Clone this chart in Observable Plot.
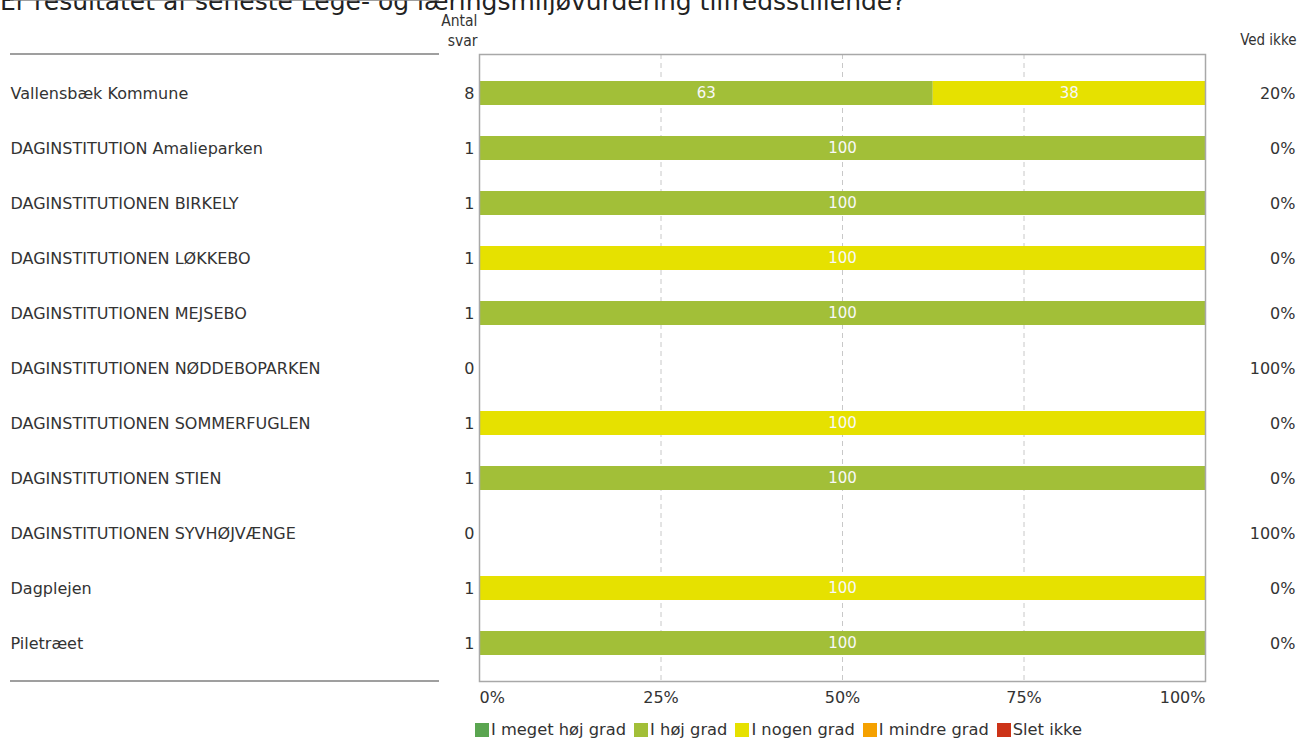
<!DOCTYPE html>
<html>
<head>
<meta charset="utf-8">
<script src="https://cdn.jsdelivr.net/npm/d3@7"></script>
<script src="https://cdn.jsdelivr.net/npm/@observablehq/plot@0.6"></script>
<style>
  html, body { margin: 0; padding: 0; background: #fff; }
  #wrap { position: relative; width: 1299px; height: 738px; overflow: hidden; font-family: "DejaVu Sans", Verdana, sans-serif; color: #333; }
  #title { position: absolute; left: 0; top: -13px; font-size: 25px; white-space: nowrap; color: #222; }
  #chart { position: absolute; left: 0; top: 0; }
  #legend { position: absolute; left: 475px; top: 720px; display: flex; font-size: 16.3px; white-space: nowrap; }
  #legend .item { display: flex; align-items: center; margin-right: 8px; }
  #legend .sw { width: 14px; height: 14px; margin-right: 2px; }
</style>
</head>
<body>
<div id="wrap">
  <div id="title">Er resultatet af seneste Lege- og læringsmiljøvurdering tilfredsstillende?</div>
  <div id="chart"></div>
  <div id="legend"></div>
</div>
<script>
const units = [
  "Vallensbæk Kommune",
  "DAGINSTITUTION Amalieparken",
  "DAGINSTITUTIONEN BIRKELY",
  "DAGINSTITUTIONEN LØKKEBO",
  "DAGINSTITUTIONEN MEJSEBO",
  "DAGINSTITUTIONEN NØDDEBOPARKEN",
  "DAGINSTITUTIONEN SOMMERFUGLEN",
  "DAGINSTITUTIONEN STIEN",
  "DAGINSTITUTIONEN SYVHØJVÆNGE",
  "Dagplejen",
  "Piletræet"
];
const antalSvar = [8, 1, 1, 1, 1, 0, 1, 1, 0, 1, 1];
const vedIkke = [20, 0, 0, 0, 0, 100, 0, 0, 100, 0, 0];

const categories = ["I meget høj grad", "I høj grad", "I nogen grad", "I mindre grad", "Slet ikke"];
const colors = ["#5aa550", "#a2bf38", "#e6e100", "#f5a100", "#cc3318"];

const iMegetHoejGrad = [0, 0, 0, 0, 0, 0, 0, 0, 0, 0, 0];
const iHoejGrad      = [62.5, 100, 100, 0, 100, 0, 0, 100, 0, 0, 100];
const iNogenGrad     = [37.5, 0, 0, 100, 0, 0, 100, 0, 0, 100, 0];
const iMindreGrad    = [0, 0, 0, 0, 0, 0, 0, 0, 0, 0, 0];
const sletIkke       = [0, 0, 0, 0, 0, 0, 0, 0, 0, 0, 0];

const xTicks = [0, 25, 50, 75, 100];

const seriesValues = [iMegetHoejGrad, iHoejGrad, iNogenGrad, iMindreGrad, sletIkke];
const long = [];
units.forEach((u, i) => {
  categories.forEach((c, k) => {
    long.push({unit: u, cat: c, value: seriesValues[k][i]});
  });
});
const rows = units.map((u, i) => ({unit: u, n: antalSvar[i], vi: vedIkke[i]}));

const labelFont = "DejaVu Sans";
const fs = 16;

function leftRules(index, scales, values, dims) {
  const g = d3.create("svg:g");
  const y = scales.y;
  const bw = y.bandwidth || 0;
  const c0 = y(units[0]) + bw / 2;
  const c1 = y(units[1]) + bw / 2;
  const ys = [dims.marginTop, (c0 + c1) / 2, dims.height - dims.marginBottom];
  const x1 = dims.marginLeft - 469, x2 = dims.marginLeft - 40;
  for (const yy of ys) {
    g.append("line").attr("x1", x1).attr("x2", x2).attr("y1", yy).attr("y2", yy)
      .attr("stroke", "#7f7f7f").attr("stroke-width", 1.6);
  }
  return g.node();
}

const plot = Plot.plot({
  width: 1299,
  height: 715,
  marginLeft: 479,
  marginRight: 94,
  marginTop: 54,
  marginBottom: 34,
  style: {fontFamily: labelFont, fontSize: fs + "px", color: "#333", background: "transparent"},
  x: {domain: [0, 100], axis: null},
  y: {domain: units, axis: null, paddingInner: 0.564, paddingOuter: 0.482},
  color: {domain: categories, range: colors},
  marks: [
    Plot.ruleX([25, 50, 75], {stroke: "#c8c8c8", strokeWidth: 1, strokeDasharray: "5,4"}),
    Plot.barX(long, Plot.stackX({x: "value", y: "unit", fill: "cat", z: "cat", order: categories})),
    Plot.text(long, Plot.stackX({x: "value", y: "unit", z: "cat", order: categories, text: d => d.value > 0 ? Math.round(d.value) : "", fill: "#f8f8f8", fontSize: 15})),
    Plot.frame({stroke: "#a8a8a8", strokeWidth: 1.5}),
    // row labels
    Plot.text(rows, {y: "unit", text: "unit", frameAnchor: "left", dx: -469, textAnchor: "start", fill: "#333", fontSize: fs}),
    Plot.text(rows, {y: "unit", text: "n", frameAnchor: "left", dx: -5, textAnchor: "end", fill: "#333", fontSize: fs}),
    Plot.text(rows, {y: "unit", text: d => d.vi + "%", frameAnchor: "right", dx: 90, textAnchor: "end", fill: "#333", fontSize: fs}),
    // headers
    Plot.text(["Antal\nsvar"], {frameAnchor: "top-left", dx: -2, dy: -9, textAnchor: "end", lineAnchor: "bottom", lineHeight: 1.23, fill: "#333", fontSize: 15.5, fontFamily: "DejaVu Sans Condensed"}),
    Plot.text(["Ved ikke"], {frameAnchor: "top-right", dx: 91, dy: -10, textAnchor: "end", lineAnchor: "bottom", fill: "#333", fontSize: 15, fontFamily: "DejaVu Sans Condensed"}),
    // x tick labels
    Plot.text(xTicks.filter(t => t === 0), {x: d => d, text: d => d + "%", frameAnchor: "bottom", dy: 21, textAnchor: "start", fill: "#333", fontSize: fs}),
    Plot.text(xTicks.filter(t => t > 0 && t < 100), {x: d => d, text: d => d + "%", frameAnchor: "bottom", dy: 21, textAnchor: "middle", fill: "#333", fontSize: fs}),
    Plot.text(xTicks.filter(t => t === 100), {x: d => d, text: d => d + "%", frameAnchor: "bottom", dy: 21, textAnchor: "end", fill: "#333", fontSize: fs}),
    leftRules
  ]
});
document.getElementById("chart").appendChild(plot);

const legend = document.getElementById("legend");
categories.forEach((c, k) => {
  const item = document.createElement("div");
  item.className = "item";
  const sw = document.createElement("div");
  sw.className = "sw";
  sw.style.background = colors[k];
  const t = document.createElement("span");
  t.textContent = c;
  item.appendChild(sw);
  item.appendChild(t);
  legend.appendChild(item);
});
</script>
</body>
</html>
